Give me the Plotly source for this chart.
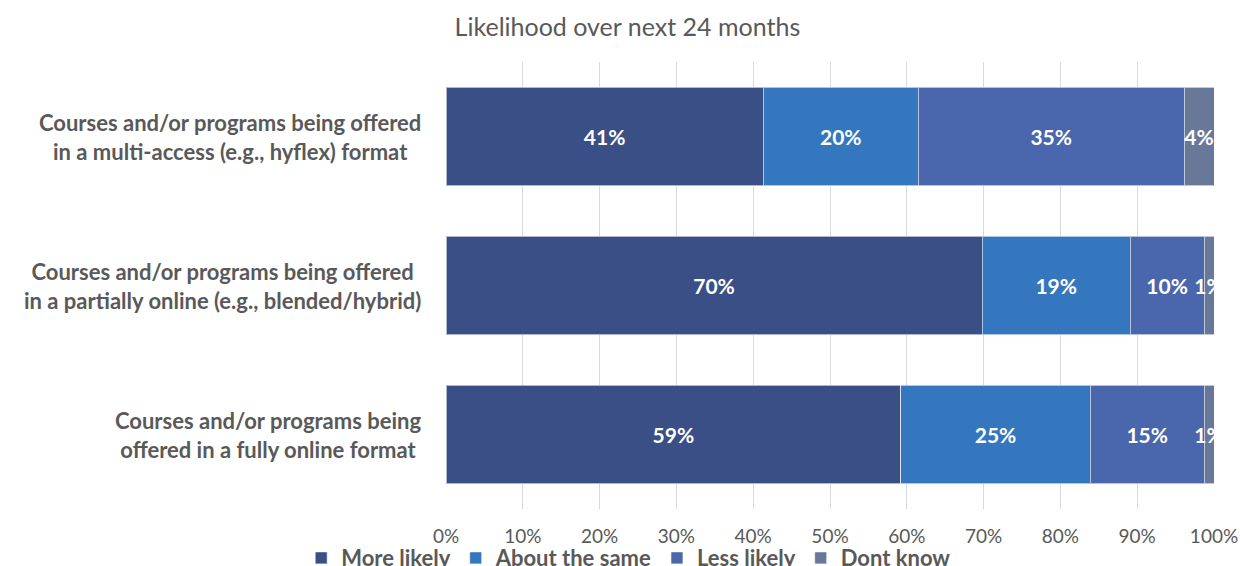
import plotly.graph_objects as go

categories = [
    "Courses and/or programs being<br>offered in a fully online format",
    "Courses and/or programs being offered<br>in a partially online (e.g., blended/hybrid)",
    "Courses and/or programs being offered<br>in a multi-access (e.g., hyflex) format",
]
series_names = ["More likely", "About the same", "Less likely", "Dont know"]
more_likely = [59.2, 69.8, 41.3]
about_same = [24.7, 19.3, 20.2]
less_likely = [14.8, 9.6, 34.6]
dont_know = [1.3, 1.3, 3.9]
labels_more = ["59%", "70%", "41%"]
labels_same = ["25%", "19%", "20%"]
labels_less = ["15%", "10%", "35%"]
labels_dk = ["1%", "1%", "4%"]
tick_vals = [0, 10, 20, 30, 40, 50, 60, 70, 80, 90, 100]
tick_text = ["0%", "10%", "20%", "30%", "40%", "50%", "60%", "70%", "80%", "90%", "100%"]

colors = ["#3A4F85", "#3477BE", "#4A66AC", "#677899"]
values = [more_likely, about_same, less_likely, dont_know]
texts = [labels_more, labels_same, labels_less, labels_dk]

FONT = "Lato"
GREY = "#595959"

fig = go.Figure()
ypos = [0, 1, 2]
for name, vals, txt, col in zip(series_names, values, texts, colors):
    fig.add_trace(go.Bar(
        y=ypos, x=vals, name=name, orientation="h",
        marker=dict(color=col, line=dict(color="rgba(255,255,255,0.6)", width=1)),
        text=txt, textposition="inside", insidetextanchor="middle",
        constraintext="none", cliponaxis=True, textangle=0,
        textfont=dict(family=FONT, size=21, color="white", weight="bold"),
        hoverinfo="skip",
    ))

annotations = []
for i, c in enumerate(categories):
    annotations.append(dict(
        x=-0.0299, xref="paper", y=ypos[i], yref="y",
        text="<b>" + c + "</b>", showarrow=False,
        xanchor="right", yanchor="middle", align="center",
        font=dict(family=FONT, size=22, color=GREY),
    ))

fig.update_layout(
    width=1240, height=566,
    paper_bgcolor="white", plot_bgcolor="white",
    barmode="stack", bargap=0.34,
    margin=dict(l=446, r=26, t=62, b=57, autoexpand=False),
    title=dict(text="Likelihood over next 24 months", x=0.506, xanchor="center",
               y=0.952, yanchor="middle",
               font=dict(family=FONT, size=25, color=GREY)),
    showlegend=True,
    legend=dict(orientation="h", xref="container", x=0.507, xanchor="center",
                yref="container", y=0.014, yanchor="middle",
                font=dict(family=FONT, size=22, color=GREY, weight="bold"),
                traceorder="normal", bgcolor="rgba(0,0,0,0)"),
    annotations=annotations,
)
fig.update_xaxes(range=[0, 100], tickvals=tick_vals, ticktext=tick_text,
                 showgrid=True, gridcolor="#D9D9D9", gridwidth=1,
                 zeroline=False, showline=False, automargin=False,
                 ticks="", ticklabelstandoff=14,
                 tickfont=dict(family=FONT, size=19, color=GREY))
fig.update_yaxes(range=[-0.5, 2.5], showticklabels=False, showgrid=False,
                 zeroline=False, showline=False, automargin=False)

fig.write_html("out.html", config={"displayModeBar": False},
               post_script="document.body.style.margin='0px';")
